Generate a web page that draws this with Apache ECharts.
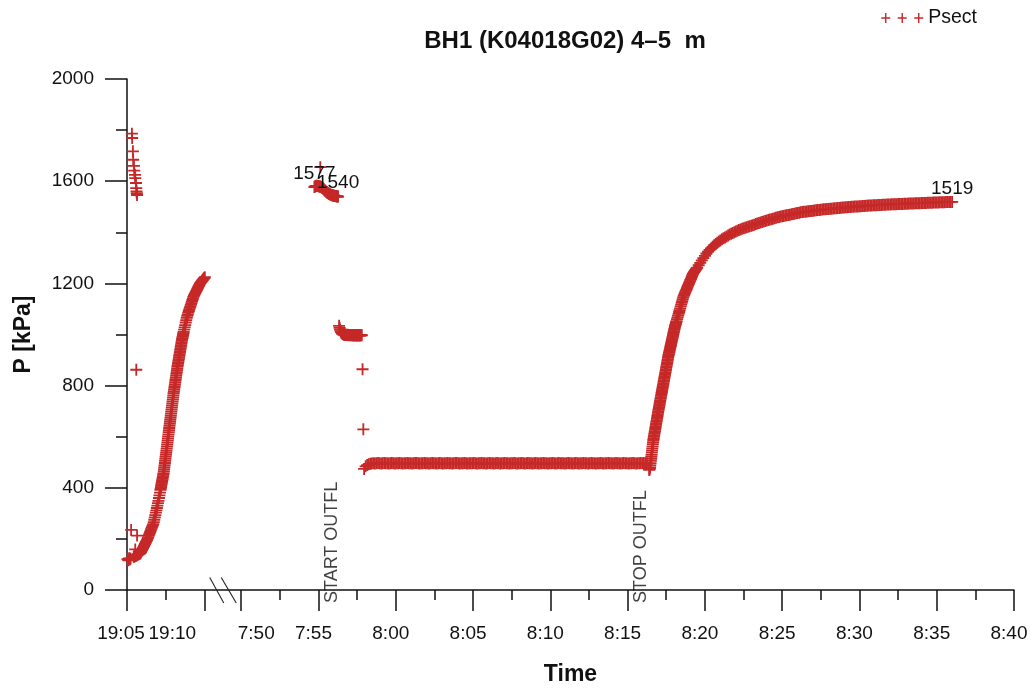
<!DOCTYPE html>
<html>
<head>
<meta charset="utf-8">
<script src="https://cdn.jsdelivr.net/npm/echarts@6/dist/echarts.min.js"></script>
<style>
  html, body { margin: 0; padding: 0; background: #fff; }
  #chart { width: 1031px; height: 689px; }
</style>
</head>
<body>
<div id="chart"></div>
<script>
// ---------------- readings (kPa) ----------------
const seriesName = 'Psect';
const titleText = 'BH1 (K04018G02) 4–5  m';

// evening session: single readings [time, kPa]
const eveningSpots = [
  ['19:05:02', 121], ['19:05:05', 116], ['19:05:08', 124], ['19:05:11', 119], ['19:05:14', 123],
  ['19:05:16', 235],
  ['19:05:19', 1786], ['19:05:20', 1769], ['19:05:23', 1717], ['19:05:24', 1684],
  ['19:05:27', 1660], ['19:05:28', 1641], ['19:05:31', 1625], ['19:05:32', 1612],
  ['19:05:35', 1593], ['19:05:36', 1573], ['19:05:37', 1560], ['19:05:38', 1553], ['19:05:39', 1546],
  ['19:05:32', 159], ['19:05:36', 862], ['19:05:39', 213]
];

// evening build-up: start, logged every 2 s
const eveningAStart = '19:05:26';
const eveningAStep = 2;
const eveningAP = [
  130, 131, 132, 133, 134, 135, 136, 137, 139, 140,
  141, 142, 143, 144, 148, 152, 156, 160, 164, 168,
  172, 176, 180, 184, 188, 192, 196, 201, 206, 212,
  217, 222, 227, 232, 238, 243, 248, 253, 258, 266,
  275, 284, 293, 303, 312, 321, 330, 340, 349, 360,
  370, 381
];

// evening build-up: fast part, logged every 1 s
const eveningBStart = '19:07:10';
const eveningBStep = 1;
const eveningBP = [
  392, 397, 403, 408, 414, 419, 424, 430, 435, 441,
  446, 452, 457, 465, 473, 481, 489, 497, 505, 513,
  521, 529, 537, 545, 553, 561, 569, 577, 585, 593,
  601, 609, 618, 626, 634, 642, 650, 658, 666, 674,
  682, 690, 698, 706, 714, 722, 730, 738, 746, 754,
  762, 770, 777, 784, 791, 798, 805, 812, 819, 825,
  832, 839, 846, 853, 860, 867, 874, 880, 886, 892,
  898, 904, 910, 916, 922, 928, 934, 940, 946, 952,
  958, 964, 970, 976, 982, 986, 991, 996, 1000, 1005,
  1010
];

// evening build-up: levelling off, logged every 2 s
const eveningCStart = '19:08:42';
const eveningCStep = 2;
const eveningCP = [
  1019, 1028, 1037, 1047, 1056, 1065, 1073, 1079, 1086, 1092,
  1098, 1104, 1110, 1116, 1123, 1129, 1135, 1141, 1147, 1152,
  1156, 1160, 1164, 1168, 1172, 1176, 1180, 1184, 1188, 1192,
  1196, 1200, 1203, 1205, 1208, 1211, 1213, 1216, 1219, 1221,
  1224
];

// morning session: single readings [time, kPa]
const morningSpots = [
  ['7:55:07', 1655], ['7:57:51', 864], ['7:57:54', 629]
];

// rest pressure before outflow, every 2 s
const restStart = '7:54:46';
const restStep = 2;
const restP = [
  1579, 1580, 1581, 1582, 1582, 1581, 1581, 1580, 1580, 1579,
  1579, 1578, 1577, 1576, 1575, 1573, 1571, 1569, 1567, 1565,
  1563, 1561, 1559, 1557, 1556, 1554, 1553, 1551, 1550, 1549,
  1548, 1547, 1546, 1545, 1545, 1544, 1544, 1543, 1543, 1542,
  1542, 1541, 1541, 1541, 1540
];

// first outflow step, every 2 s
const stepStart = '7:56:20';
const stepStep = 2;
const stepP = [
  1034, 1026, 1019, 1013, 1009, 1006, 1004, 1002, 1001, 1000,
  999, 1000, 999, 998, 999, 998, 998, 999, 998, 997,
  998, 998, 997, 998, 997, 997, 998, 997, 996, 997,
  997, 998, 997, 996, 997, 997, 996, 997, 998, 997,
  996, 997, 997, 998, 997
];

// constant-head outflow, every 6 s
const flowStart = '7:57:57';
const flowStep = 6;
const flowP = [
  474, 484, 489, 492, 494, 495, 496, 495, 496, 497,
  496, 495, 496, 497, 496, 496, 495, 496, 497, 496,
  495, 496, 496, 497, 496, 495, 496, 496, 497, 496,
  496, 495, 496, 497, 497, 496, 495, 496, 496, 497,
  496, 496, 495, 496, 497, 496, 496, 495, 496, 497,
  496, 495, 496, 496, 497, 496, 496, 495, 496, 497,
  497, 496, 495, 496, 496, 497, 496, 495, 496, 496,
  496, 497, 496, 495, 496, 496, 497, 496, 496, 495,
  496, 497, 496, 496, 495, 496, 497, 496, 495, 496,
  496, 497, 496, 496, 495, 496, 496, 497, 496, 495,
  496, 496, 497, 496, 495, 496, 497, 496, 496, 495,
  496, 497, 496, 495, 496, 496, 497, 496, 496, 495,
  496, 496, 497, 496, 495, 496, 497, 496, 496, 496,
  495, 496, 497, 496, 496, 495, 496, 497, 496, 495,
  496, 496, 497, 496, 496, 495, 496, 497, 496, 496,
  495, 496, 496, 497, 496, 495, 496, 496, 497, 496,
  496, 495, 496, 497, 496, 496, 495, 496, 497, 496,
  496, 495, 496, 496, 497, 496, 495, 496, 496, 497,
  496, 497, 496, 495
];

// recovery after stop: fast part, every 1 s
const riseAStart = '8:16:24';
const riseAStep = 1;
const riseAP = [
  470, 473, 476, 480, 488, 496, 505, 513, 521, 529,
  538, 546, 554, 562, 571, 579, 587, 593, 599, 605,
  611, 617, 622, 628, 634, 640, 646, 652, 658, 664,
  670, 675, 681, 687, 693, 699, 705, 710, 716, 721,
  727, 732, 738, 743, 749, 754, 760, 765, 771, 776,
  782, 787, 793, 798, 803, 809, 815, 820, 826, 831,
  837, 842, 848, 853, 859, 864, 870, 875, 881, 887,
  892, 898, 903, 909, 914, 919, 923, 928, 932, 937,
  941, 946, 950, 955, 959, 964, 968, 973, 977, 982,
  986, 991, 995, 1000, 1004, 1009, 1013, 1018, 1022, 1027,
  1031, 1035, 1038, 1042, 1045, 1049, 1052
];

// recovery after stop: bending over, every 2 s
const riseBStart = '8:18:12';
const riseBStep = 2;
const riseBP = [
  1060, 1067, 1074, 1081, 1088, 1095, 1102, 1110, 1117, 1124,
  1131, 1138, 1145, 1151, 1156, 1161, 1166, 1171, 1175, 1180,
  1185, 1190, 1194, 1199, 1204, 1209, 1214, 1218, 1223, 1228,
  1233, 1237, 1241, 1244, 1247, 1250, 1253, 1256, 1259, 1262
];

// late recovery, every 6 s
const tailStart = '8:19:36';
const tailStep = 6;
const tailP = [
  1271, 1280, 1290, 1299, 1308, 1317, 1324, 1331, 1337, 1343,
  1349, 1354, 1359, 1364, 1368, 1373, 1377, 1380, 1384, 1387,
  1391, 1394, 1397, 1400, 1403, 1406, 1409, 1411, 1414, 1416,
  1418, 1420, 1422, 1424, 1426, 1428, 1430, 1432, 1434, 1436,
  1438, 1440, 1442, 1444, 1446, 1448, 1450, 1451, 1453, 1455,
  1457, 1459, 1460, 1462, 1463, 1464, 1466, 1467, 1468, 1469,
  1471, 1472, 1473, 1475, 1476, 1477, 1478, 1479, 1480, 1480,
  1481, 1482, 1483, 1483, 1484, 1485, 1486, 1487, 1487, 1488,
  1489, 1490, 1490, 1491, 1491, 1492, 1492, 1493, 1494, 1494,
  1495, 1495, 1496, 1497, 1497, 1498, 1498, 1499, 1499, 1500,
  1500, 1501, 1501, 1501, 1502, 1502, 1503, 1503, 1504, 1504,
  1505, 1505, 1505, 1506, 1506, 1506, 1507, 1507, 1507, 1508,
  1508, 1508, 1509, 1509, 1509, 1510, 1510, 1510, 1510, 1511,
  1511, 1511, 1511, 1512, 1512, 1512, 1513, 1513, 1513, 1513,
  1514, 1514, 1514, 1514, 1515, 1515, 1515, 1515, 1516, 1516,
  1516, 1516, 1517, 1517, 1517, 1517, 1518, 1518, 1518, 1518,
  1519, 1519, 1519, 1519
];

// readings annotated with their value
const labelledPoints = [['7:54:44', 1577], ['7:56:16', 1540], ['8:36:00', 1519]];

// test events
const eventNames = ['START OUTFL', 'STOP OUTFL'];
const eventTimes = ['7:56:18', '8:16:20'];

// time axis (evening block, break, morning block)
const majorTicks = ['19:05', '19:10', '7:50', '7:55', '8:00', '8:05', '8:10', '8:15', '8:20', '8:25', '8:30', '8:35', '8:40'];
const minorTicks = ['19:07:30', '7:52:30', '7:57:30', '8:02:30', '8:07:30', '8:12:30', '8:17:30', '8:22:30', '8:27:30', '8:32:30', '8:37:30'];
const tickLabels = majorTicks;
const eveningOrigin = '19:05';
const morningOrigin = '7:50';
const axisEndTime = '8:40';
const breakShift = 7.39;   // axis minutes taken by the evening block and the break gap

// pressure axis
const yMin = 0, yMax = 2000, yStep = 400;

// ---------------- layout ----------------
const RED = '#c62828';
const INK = '#111';
const AXIS = '#111';
const FONT = '"Liberation Sans", Arial, Helvetica, sans-serif';
const GRID = { left: 127, right: 17, top: 79, bottom: 99, outerBoundsMode: 'none' };
const labelNudgePx = [-6, -32, 15, -5, -5, -5, -5, -5, -5, -5, -5, -5, -5];
const PLUS = 'path://M5.1,0h1.8v12h-1.8zM0,5.1h12v1.8h-12z';
const PLUS3 = 'path://M3.8,0h1.4v10h-1.4zM0,4.3h9v1.4h-9z' +
              'M20.3,0h1.4v10h-1.4zM16.5,4.3h9v1.4h-9z' +
              'M36.8,0h1.4v10h-1.4zM33,4.3h9v1.4h-9z';

function toSec(t) {
  const p = t.split(':').map(Number);
  return p[0] * 3600 + p[1] * 60 + (p[2] || 0);
}
const eveningSec = toSec(eveningOrigin);
const morningSec = toSec(morningOrigin);
// seconds of day -> axis minutes on the broken time axis
function secToAxis(sec) {
  return sec >= 12 * 3600 ? (sec - eveningSec) / 60 : breakShift + (sec - morningSec) / 60;
}
const toAxis = t => secToAxis(toSec(t));

function run(start, step, values) {
  const s0 = toSec(start);
  return values.map((v, i) => [secToAxis(s0 + i * step), v]);
}
const spots = list => list.map(([t, v]) => [toAxis(t), v]);

const pressureData = [].concat(
  spots(eveningSpots),
  run(eveningAStart, eveningAStep, eveningAP),
  run(eveningBStart, eveningBStep, eveningBP),
  run(eveningCStart, eveningCStep, eveningCP),
  spots(morningSpots),
  run(restStart, restStep, restP),
  run(stepStart, stepStep, stepP),
  run(flowStart, flowStep, flowP),
  run(riseAStart, riseAStep, riseAP),
  run(riseBStart, riseBStep, riseBP),
  run(tailStart, tailStep, tailP)
);

const axisMax = toAxis(axisEndTime);
const majorPos = majorTicks.map(toAxis);
const minorPos = minorTicks.map(toAxis);

const rich = {};
labelNudgePx.forEach((n, i) => {
  rich['k' + i] = {
    fontSize: 19, fontFamily: FONT, color: INK,
    padding: n < 0 ? [0, -2 * n, 0, 0] : [0, 0, 0, 2 * n]
  };
});
function tickLabel(v) {
  let best = 0;
  majorPos.forEach((p, i) => { if (Math.abs(p - v) < Math.abs(majorPos[best] - v)) best = i; });
  return '{k' + best + '|' + tickLabels[best] + '}';
}

const chart = echarts.init(document.getElementById('chart'));
chart.setOption({
  animation: false,
  backgroundColor: '#fff',
  textStyle: { fontFamily: FONT, color: INK },
  title: {
    text: titleText,
    left: 560, top: 24, textAlign: 'center',
    textStyle: { fontFamily: FONT, fontSize: 24, fontWeight: 'bold', color: INK }
  },
  legend: {
    data: [seriesName],
    right: 49, top: 3,
    icon: PLUS3, itemWidth: 42, itemHeight: 10,
    textStyle: { fontFamily: FONT, fontSize: 19.5, color: INK },
    itemStyle: { color: RED }
  },
  grid: GRID,
  xAxis: [{
    type: 'value', min: 0, max: axisMax, position: 'bottom',
    name: 'Time', nameLocation: 'middle', nameGap: 73,
    nameTextStyle: { fontFamily: FONT, fontSize: 23, fontWeight: 'bold', color: INK },
    axisLine: { lineStyle: { color: AXIS, width: 1.5 } },
    axisTick: { show: true, customValues: majorPos, length: 21, lineStyle: { color: AXIS, width: 1.5 } },
    axisLabel: { customValues: majorPos, formatter: tickLabel, rich: rich, margin: 34, fontSize: 19, color: INK },
    splitLine: { show: false }
  }, {
    type: 'value', min: 0, max: axisMax, position: 'bottom', gridIndex: 0,
    axisLine: { show: false },
    axisTick: { show: true, customValues: minorPos, length: 10, lineStyle: { color: AXIS, width: 1.5 } },
    axisLabel: { show: false },
    splitLine: { show: false }
  }],
  yAxis: {
    type: 'value', min: yMin, max: yMax, interval: yStep,
    name: 'P [kPa]', nameLocation: 'middle', nameGap: 92,
    nameTextStyle: { fontFamily: FONT, fontSize: 23, fontWeight: 'bold', color: INK },
    axisLine: { show: true, lineStyle: { color: AXIS, width: 1.5 } },
    axisTick: { show: true, length: 22, lineStyle: { color: AXIS, width: 1.5 } },
    minorTick: { show: true, splitNumber: 2, length: 11, lineStyle: { color: AXIS, width: 1.5 } },
    axisLabel: { margin: 33, fontSize: 19, color: INK, formatter: v => String(v) },
    splitLine: { show: false }
  },
  series: [{
    name: seriesName, type: 'scatter',
    symbol: PLUS, symbolSize: 12,
    itemStyle: { color: RED, opacity: 1 },
    data: pressureData
  }, {
    name: seriesName, type: 'scatter',
    symbol: PLUS, symbolSize: 12,
    itemStyle: { color: RED, opacity: 1 },
    data: spots(labelledPoints),
    label: {
      show: true, position: 'top', distance: -2,
      formatter: p => String(p.value[1]),
      fontSize: 19, color: INK
    },
    z: 3
  }, {
    name: 'events', type: 'scatter',
    symbolSize: 0, silent: true,
    data: eventNames.map((n, i) => ({ name: n, value: [toAxis(eventTimes[i]), 0] })),
    label: {
      show: true, position: 'inside', formatter: '{b}', rotate: 90,
      align: 'left', verticalAlign: 'bottom', offset: [-13, 2],
      fontSize: 18, color: INK
    },
    z: 4
  }]
});

// break marks on the time axis between the two sessions
const bx = chart.convertToPixel({ xAxisIndex: 0 }, (toAxis('19:10') + toAxis('7:50')) / 2);
const by = chart.convertToPixel({ yAxisIndex: 0 }, 0);
chart.setOption({
  graphic: [
    { type: 'line', shape: { x1: bx - 13, y1: by - 12.5, x2: bx + 1, y2: by + 13 }, style: { stroke: '#222', lineWidth: 1.1 }, z: 10 },
    { type: 'line', shape: { x1: bx - 1.5, y1: by - 12.5, x2: bx + 13.5, y2: by + 13 }, style: { stroke: '#222', lineWidth: 1.1 }, z: 10 }
  ]
});
</script>
</body>
</html>
